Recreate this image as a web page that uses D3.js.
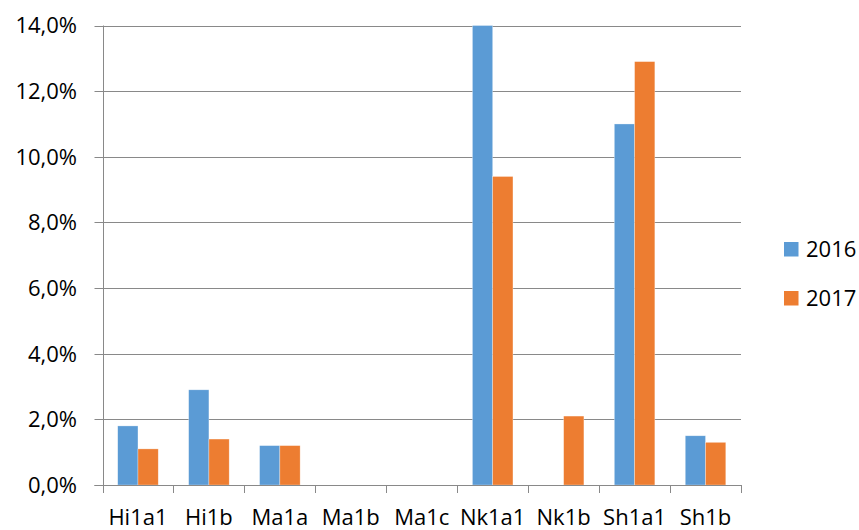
<!DOCTYPE html>
<html>
<head>
<meta charset="utf-8">
<script src="https://cdn.jsdelivr.net/npm/d3@7"></script>
<style>
  body { margin: 0; background: #fff; }
  text { font-family: "Open Sans", sans-serif; fill: #000; }
</style>
</head>
<body>
<div id="chart"></div>
<script>
// categories and values (percent)
var categories = ["Hi1a1", "Hi1b", "Ma1a", "Ma1b", "Ma1c", "Nk1a1", "Nk1b", "Sh1a1", "Sh1b"];
var series = ["2016", "2017"];
var values2016 = [1.8, 2.9, 1.2, 0, 0, 14.0, 0, 11.0, 1.5];
var values2017 = [1.1, 1.4, 1.2, 0, 0, 9.4, 2.1, 12.9, 1.3];
var yTicks = [0, 2, 4, 6, 8, 10, 12, 14];
var colors = ["#5B9BD5", "#ED7D31"];

var width = 859, height = 530;
var plotLeft = 102.5, plotRight = 741, plotTop = 25.5, plotBottom = 485;

var svg = d3.select("#chart").append("svg")
    .attr("width", width)
    .attr("height", height);

var x = d3.scaleBand()
    .domain(categories)
    .range([plotLeft, plotRight])
    .paddingInner(0)
    .paddingOuter(0);

// gap width 150% -> two bars take 2/3.5 of the category
var xInner = d3.scaleBand()
    .domain(series)
    .range([0, x.bandwidth()])
    .paddingOuter(0.75)
    .paddingInner(0);

var y = d3.scaleLinear()
    .domain([0, 14])
    .range([plotBottom, plotTop]);

// gridlines + y ticks
svg.append("g")
    .selectAll("line")
    .data(yTicks)
    .enter()
    .append("line")
    .attr("x1", plotLeft - 8)
    .attr("x2", plotRight)
    .attr("y1", function(d) { return Math.round(y(d)) + 0.5; })
    .attr("y2", function(d) { return Math.round(y(d)) + 0.5; })
    .attr("stroke", "#898989")
    .attr("stroke-width", 1);

svg.append("g")
    .selectAll("text")
    .data(yTicks)
    .enter()
    .append("text")
    .attr("x", 77)
    .attr("y", function(d) { return y(d); })
    .attr("dy", "0.36em")
    .attr("text-anchor", "end")
    .attr("font-size", "22px")
    .text(function(d) { return d3.format(".1f")(d).replace(".", ",") + "%"; });

// bars
var rows = categories.map(function(c, i) {
    return { cat: c, vals: [values2016[i], values2017[i]] };
});

var groups = svg.append("g")
    .selectAll("g")
    .data(rows)
    .enter()
    .append("g")
    .attr("transform", function(d) { return "translate(" + x(d.cat) + ",0)"; });

groups.selectAll("rect")
    .data(function(d) {
        return d.vals.map(function(v, j) { return { s: series[j], v: v, j: j }; })
            .filter(function(e) { return e.v > 0; });
    })
    .enter()
    .append("rect")
    .attr("x", function(d) { return xInner(d.s); })
    .attr("y", function(d) { return y(d.v); })
    .attr("width", xInner.bandwidth())
    .attr("height", function(d) { return plotBottom - y(d.v); })
    .attr("fill", function(d) { return colors[d.j]; })
    .attr("stroke", "#ffffff")
    .attr("stroke-opacity", 0.5)
    .attr("stroke-width", 0.6);

// axes lines
svg.append("line")
    .attr("x1", Math.round(plotLeft) + 0.5)
    .attr("x2", Math.round(plotLeft) + 0.5)
    .attr("y1", plotTop)
    .attr("y2", plotBottom + 8)
    .attr("stroke", "#898989");

svg.append("line")
    .attr("x1", plotLeft - 8)
    .attr("x2", plotRight)
    .attr("y1", Math.round(plotBottom) + 0.5)
    .attr("y2", Math.round(plotBottom) + 0.5)
    .attr("stroke", "#898989");

// x ticks at category boundaries
var boundaries = categories.map(function(c) { return x(c); }).concat([plotRight]);
svg.append("g")
    .selectAll("line")
    .data(boundaries)
    .enter()
    .append("line")
    .attr("x1", function(d) { return Math.round(d) + 0.5; })
    .attr("x2", function(d) { return Math.round(d) + 0.5; })
    .attr("y1", plotBottom)
    .attr("y2", plotBottom + 8)
    .attr("stroke", "#898989");

svg.append("g")
    .selectAll("text")
    .data(categories)
    .enter()
    .append("text")
    .attr("x", function(d) { return x(d) + x.bandwidth() / 2; })
    .attr("y", 525)
    .attr("text-anchor", "middle")
    .attr("font-size", "22px")
    .text(function(d) { return d; });

// legend
var legend = svg.append("g")
    .selectAll("g")
    .data(series)
    .enter()
    .append("g")
    .attr("transform", function(d, i) { return "translate(784," + (242 + i * 49) + ")"; });

legend.append("rect")
    .attr("width", 14.5)
    .attr("height", 14.5)
    .attr("fill", function(d, i) { return colors[i]; });

legend.append("text")
    .attr("x", 22)
    .attr("y", 7.5)
    .attr("dy", "0.36em")
    .attr("font-size", "22px")
    .text(function(d) { return d; });
</script>
</body>
</html>
